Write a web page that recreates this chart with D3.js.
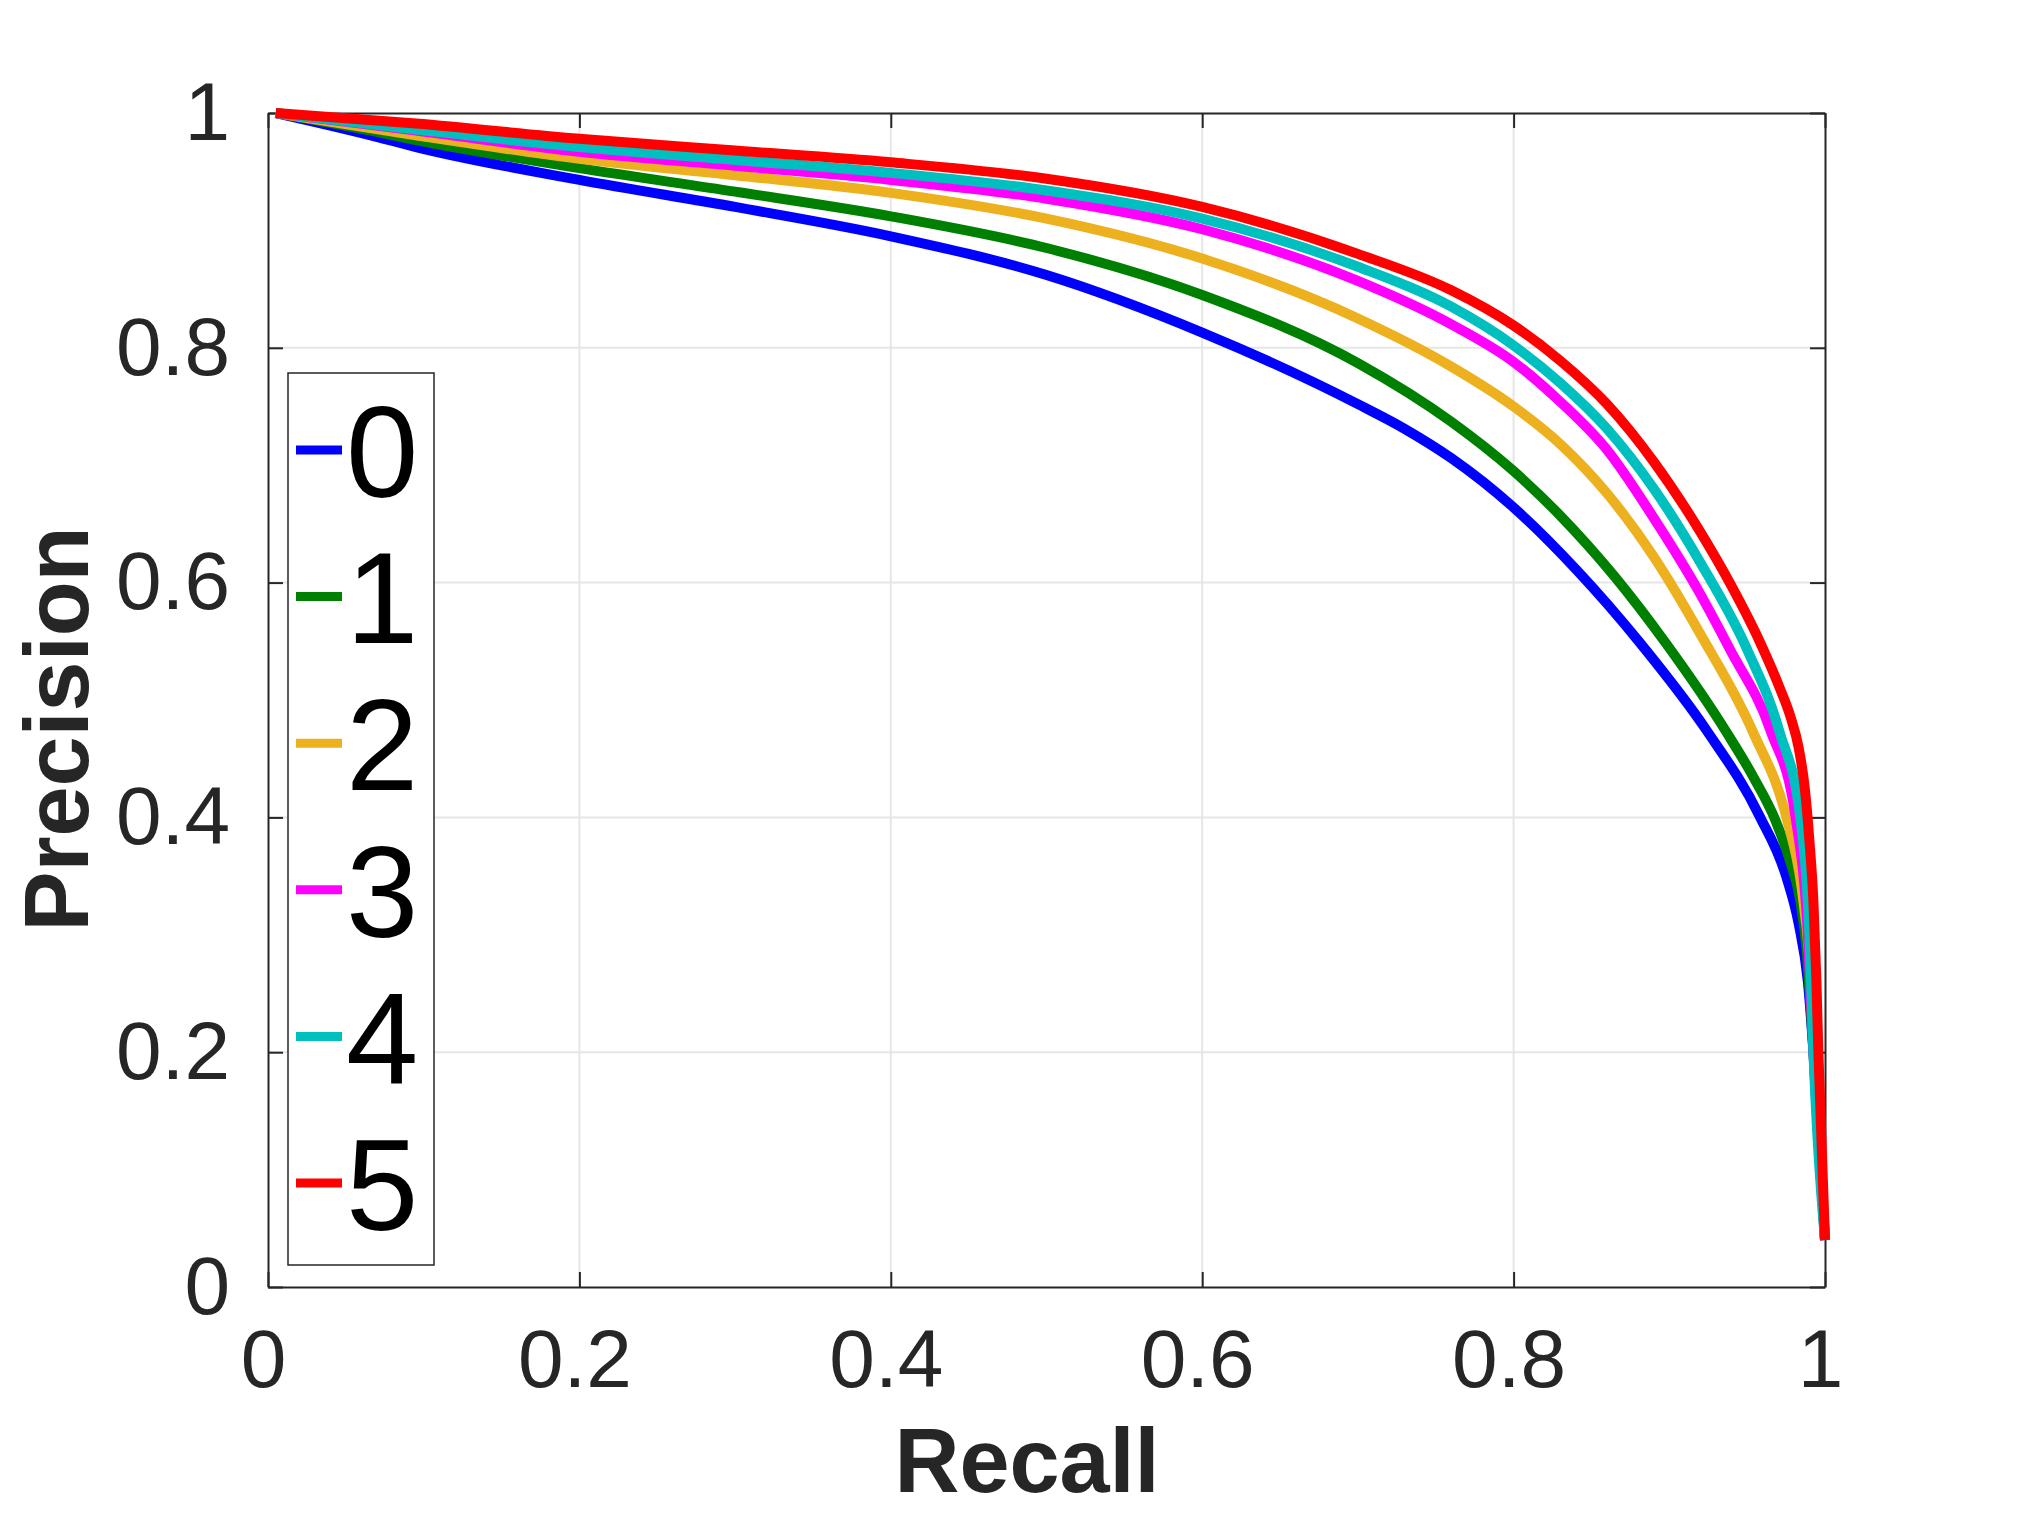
<!DOCTYPE html>
<html>
<head>
<meta charset="utf-8">
<script src="https://cdn.jsdelivr.net/npm/d3@7"></script>
<style>
  body { margin: 0; background: #fff; }
  svg { display: block; font-family: "Liberation Sans", Arial, Helvetica, sans-serif; }
</style>
</head>
<body>
<svg id="chart" width="2017" height="1517"></svg>
<script>
// series names shown in the legend
const seriesNames = ["0", "1", "2", "3", "4", "5"];

// values (recall, precision) per series
const recall0    = [0.005, 0.066, 0.095, 0.2, 0.3, 0.4, 0.5, 0.6, 0.7, 0.73, 0.76, 0.8, 0.841, 0.881, 0.924, 0.958, 0.975, 0.983, 0.989, 0.9925, 1.0];
const precision0 = [1.0, 0.981, 0.971, 0.943, 0.920, 0.895, 0.862, 0.813, 0.752, 0.731, 0.706, 0.664, 0.610, 0.549, 0.474, 0.401, 0.35, 0.31, 0.26, 0.202, 0.04];

const recall1    = [0.005, 0.066, 0.095, 0.2, 0.3, 0.4, 0.5, 0.6, 0.7, 0.76, 0.8, 0.83, 0.865, 0.898, 0.937, 0.955, 0.968, 0.977, 0.984, 0.988, 0.9925, 1.0];
const precision1 = [1.0, 0.985, 0.977, 0.953, 0.933, 0.912, 0.885, 0.845, 0.787, 0.737, 0.695, 0.657, 0.605, 0.548, 0.472, 0.432, 0.398, 0.365, 0.33, 0.29, 0.202, 0.04];

const recall2    = [0.005, 0.095, 0.2, 0.3, 0.4, 0.5, 0.6, 0.7, 0.76, 0.8, 0.83, 0.86, 0.89, 0.92, 0.954, 0.975, 0.985, 0.99, 0.9935, 1.0];
const precision2 = [1.0, 0.981, 0.961, 0.947, 0.932, 0.910, 0.876, 0.825, 0.784, 0.750, 0.718, 0.676, 0.622, 0.556, 0.472, 0.401, 0.34, 0.28, 0.202, 0.04];

const recall3    = [0.005, 0.095, 0.2, 0.3, 0.4, 0.5, 0.6, 0.7, 0.76, 0.8, 0.83, 0.86, 0.89, 0.92, 0.939, 0.965, 0.981, 0.989, 0.9925, 1.0];
const precision3 = [1.0, 0.985, 0.967, 0.955, 0.943, 0.927, 0.901, 0.857, 0.820, 0.788, 0.754, 0.713, 0.655, 0.590, 0.543, 0.474, 0.401, 0.30, 0.202, 0.04];

const recall4    = [0.005, 0.095, 0.2, 0.3, 0.4, 0.5, 0.6, 0.7, 0.76, 0.8, 0.83, 0.86, 0.89, 0.92, 0.95, 0.971, 0.984, 0.99, 0.9925, 1.0];
const precision4 = [1.0, 0.986, 0.971, 0.960, 0.949, 0.934, 0.910, 0.869, 0.835, 0.802, 0.770, 0.731, 0.680, 0.617, 0.543, 0.472, 0.401, 0.30, 0.202, 0.04];

const recall5    = [0.005, 0.095, 0.2, 0.3, 0.4, 0.5, 0.6, 0.7, 0.76, 0.8, 0.83, 0.86, 0.89, 0.92, 0.94, 0.958, 0.971, 0.978, 0.983, 0.987, 0.990, 0.9925, 0.9945, 0.9957, 1.0];
const precision5 = [1.0, 0.991, 0.978, 0.968, 0.958, 0.944, 0.920, 0.880, 0.849, 0.819, 0.789, 0.752, 0.703, 0.643, 0.597, 0.550, 0.510, 0.485, 0.460, 0.425, 0.380, 0.330, 0.260, 0.202, 0.04];

const tickValues = [0, 0.2, 0.4, 0.6, 0.8, 1];

// styles
const colors = ["#0000ff", "#008000", "#edb120", "#ff00ff", "#00bfbf", "#ff0000"];
const axisColor = "#262626";

const margin = { top: 113, left: 268 };
const width = 1557;
const height = 1174;

const series = [
    [recall0, precision0],
    [recall1, precision1],
    [recall2, precision2],
    [recall3, precision3],
    [recall4, precision4],
    [recall5, precision5]
].map(([r, p], i) => ({
    name: seriesNames[i],
    points: r.map((v, j) => [v, p[j]])
}));

const svg = d3.select("#chart");

svg.append("rect")
    .attr("width", 2017)
    .attr("height", 1517)
    .attr("fill", "#fff");

const x = d3.scaleLinear().domain([0, 1]).range([margin.left, margin.left + width]);
const y = d3.scaleLinear().domain([0, 1]).range([margin.top + height, margin.top]);

// grid lines
const grid = svg.append("g").attr("stroke", "#e6e6e6").attr("stroke-width", 2);
grid.selectAll(".vgrid")
    .data(tickValues.slice(1, -1))
    .join("line")
    .attr("x1", d => x(d)).attr("x2", d => x(d))
    .attr("y1", y(0)).attr("y2", y(1));
grid.selectAll(".hgrid")
    .data(tickValues.slice(1, -1))
    .join("line")
    .attr("y1", d => y(d)).attr("y2", d => y(d))
    .attr("x1", x(0)).attr("x2", x(1));

// legend box goes over the grid
const legend = svg.append("g");
legend.append("rect")
    .attr("x", 288)
    .attr("y", 373)
    .attr("width", 146)
    .attr("height", 892)
    .attr("fill", "#fff")
    .attr("stroke", axisColor)
    .attr("stroke-width", 1.5);

const legendY = d3.scalePoint().domain(seriesNames).range([450, 1183]);

legend.selectAll(".entry")
    .data(series)
    .join("g")
    .attr("transform", d => `translate(0, ${legendY(d.name)})`)
    .each(function (d, i) {
        const g = d3.select(this);
        g.append("line")
            .attr("x1", 296).attr("x2", 342)
            .attr("stroke", colors[i])
            .attr("stroke-width", 9);
        g.append("text")
            .attr("x", 346)
            .attr("dy", "0.36em")
            .style("font-size", "130px")
            .attr("fill", "#000")
            .text(d.name);
    });

// axes
const fmt = d3.format("~g");

function styleAxis(g) {
    g.selectAll(".domain").attr("stroke", axisColor).attr("stroke-width", 2);
    g.selectAll(".tick line").attr("stroke", axisColor).attr("stroke-width", 2);
    g.selectAll(".tick text").attr("fill", axisColor).style("font-size", "82px");
}

svg.append("g")
    .attr("transform", `translate(0, ${y(0)})`)
    .call(d3.axisBottom(x).tickValues(tickValues).tickFormat(fmt)
        .tickSize(-15).tickSizeOuter(0).tickPadding(42))
    .call(styleAxis)
    .call(g => g.selectAll(".tick text").attr("dx", -5));

svg.append("g")
    .attr("transform", `translate(${x(0)}, 0)`)
    .call(d3.axisLeft(y).tickValues(tickValues).tickFormat(fmt)
        .tickSize(-15).tickSizeOuter(0).tickPadding(38))
    .call(styleAxis);

svg.append("g")
    .attr("transform", `translate(0, ${y(1)})`)
    .call(d3.axisTop(x).tickValues(tickValues).tickFormat("")
        .tickSize(-15).tickSizeOuter(0))
    .call(styleAxis);

svg.append("g")
    .attr("transform", `translate(${x(1)}, 0)`)
    .call(d3.axisRight(y).tickValues(tickValues).tickFormat("")
        .tickSize(-15).tickSizeOuter(0))
    .call(styleAxis);

svg.selectAll("g").attr("font-family", null);

// curves
const line = d3.line()
    .x(d => x(d[0]))
    .y(d => y(d[1]))
    .curve(d3.curveMonotoneX);

svg.append("g")
    .selectAll("path")
    .data(series)
    .join("path")
    .attr("d", d => line(d.points))
    .attr("fill", "none")
    .attr("stroke", (d, i) => colors[i])
    .attr("stroke-width", 10)
    .attr("stroke-linejoin", "round");

// axis titles
svg.append("text")
    .attr("x", 1027)
    .attr("y", 1492)
    .attr("text-anchor", "middle")
    .style("font-size", "90px")
    .style("font-weight", "bold")
    .attr("fill", axisColor)
    .text("Recall");

svg.append("text")
    .attr("transform", "translate(88, 729) rotate(-90)")
    .attr("text-anchor", "middle")
    .style("font-size", "90px")
    .style("font-weight", "bold")
    .attr("fill", axisColor)
    .text("Precision");
</script>
</body>
</html>
